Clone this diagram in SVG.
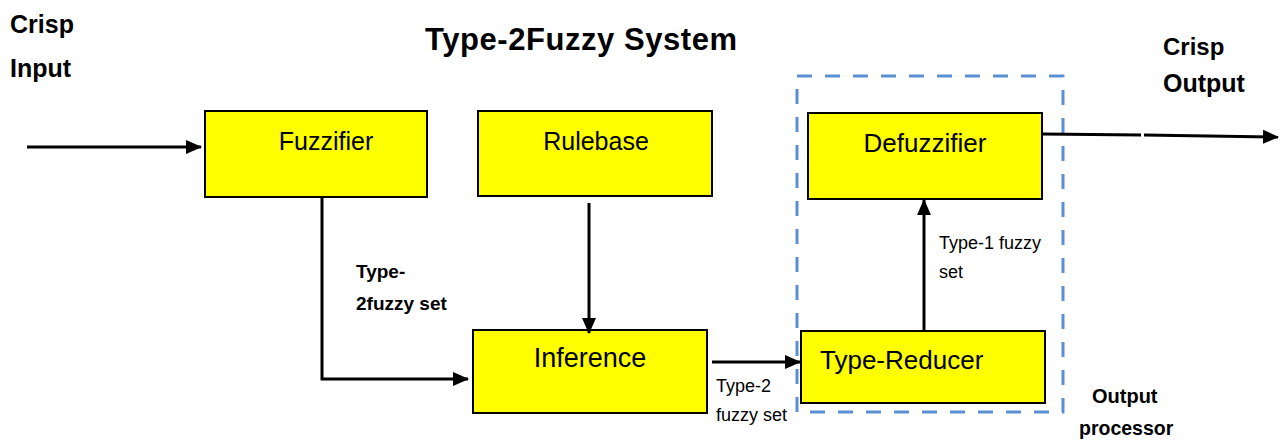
<svg xmlns="http://www.w3.org/2000/svg" width="1288" height="441" viewBox="0 0 1288 441">
<style>
.box{fill:#FFFF00;stroke:#000;stroke-width:2}
.lbl{font-family:"Liberation Sans",Arial,sans-serif;fill:#000}
.b{font-weight:bold}
.con{stroke:#000;stroke-width:3;fill:none}
</style>
<defs>
<marker id="ah" markerUnits="userSpaceOnUse" markerWidth="16" markerHeight="16" viewBox="0 0 16 16" refX="15" refY="8" orient="auto">
<path d="M0,1 L16,8 L0,15 Z" fill="#000"/>
</marker>
</defs>
<rect width="1288" height="441" fill="#fff"/>
<text class="lbl b" x="10" y="33" font-size="25">Crisp</text>
<text class="lbl b" x="10" y="77" font-size="25">Input</text>
<text class="lbl b" x="425" y="50" font-size="31" textLength="312">Type-2Fuzzy System</text>
<text class="lbl b" x="1163" y="55" font-size="24">Crisp</text>
<text class="lbl b" x="1163" y="92" font-size="25">Output</text>
<g id="output-processor">
<rect x="797" y="76" width="266" height="336" fill="none" stroke="#5B8FD4" stroke-width="3" stroke-dasharray="15 13"/>
<text class="lbl b" x="1092" y="403" font-size="20">Output</text>
<text class="lbl b" x="1079" y="435" font-size="19.5">processor</text>
</g>
<g id="fuzzifier">
<rect class="box" x="205" y="111" width="222" height="86"/>
<text class="lbl" x="326" y="150" font-size="25" text-anchor="middle">Fuzzifier</text>
</g>
<g id="rulebase">
<rect class="box" x="478" y="111" width="234" height="85"/>
<text class="lbl" x="596" y="150" font-size="25" text-anchor="middle">Rulebase</text>
</g>
<g id="inference">
<rect class="box" x="473" y="330" width="234" height="83"/>
<text class="lbl" x="590" y="367" font-size="27" text-anchor="middle">Inference</text>
</g>
<g id="type-reducer">
<rect class="box" x="801" y="331" width="244" height="72"/>
<text class="lbl" x="820" y="369" font-size="26">Type-Reducer</text>
</g>
<g id="defuzzifier">
<rect class="box" x="808" y="113" width="234" height="86"/>
<text class="lbl" x="925" y="152" font-size="26" text-anchor="middle">Defuzzifier</text>
</g>
<g id="connectors">
<line class="con" x1="27" y1="147" x2="201" y2="147" marker-end="url(#ah)"/>
<polyline class="con" points="322,197 322,379 468,379" marker-end="url(#ah)"/>
<line class="con" x1="589" y1="203" x2="589" y2="333" marker-end="url(#ah)"/>
<line class="con" x1="712" y1="362" x2="800" y2="362" stroke-width="2.5" marker-end="url(#ah)"/>
<line class="con" x1="924" y1="331" x2="924" y2="200" marker-end="url(#ah)"/>
<line class="con" x1="1042" y1="134" x2="1141" y2="135"/>
<line class="con" x1="1144" y1="135" x2="1278" y2="137" marker-end="url(#ah)"/>
<text class="lbl b" x="356" y="278" font-size="19">Type-</text>
<text class="lbl b" x="356" y="310" font-size="19">2fuzzy set</text>
<text class="lbl" x="716" y="392" font-size="18">Type-2</text>
<text class="lbl" x="716" y="421" font-size="18">fuzzy set</text>
<text class="lbl" x="939" y="249" font-size="18">Type-1 fuzzy</text>
<text class="lbl" x="939" y="278" font-size="18">set</text>
</g>
</svg>
